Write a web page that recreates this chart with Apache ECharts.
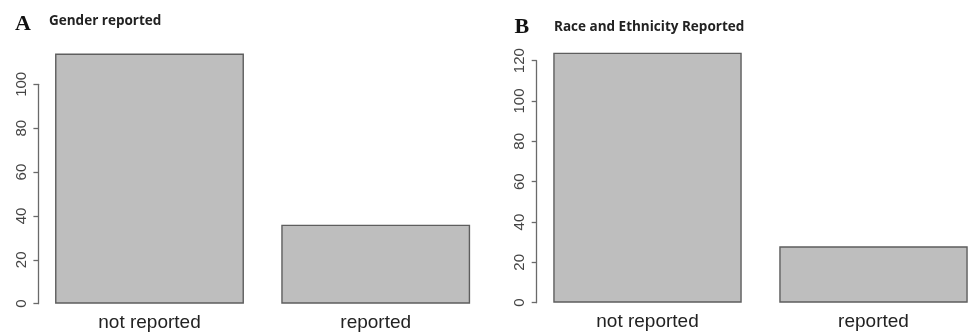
<!DOCTYPE html>
<html>
<head>
<meta charset="utf-8">
<script src="https://cdn.jsdelivr.net/npm/echarts@6/dist/echarts.min.js"></script>
<style>
html,body{margin:0;padding:0;background:#fff;}
#c{width:968px;height:335px;}
</style>
</head>
<body>
<div id="c"></div>
<script>
const categories = ['not reported', 'reported'];
const genderCounts = [114, 36];
const raceCounts = [124, 28];
const panelLetters = ['A', 'B'];
const panelTitles = ['Gender reported', 'Race and Ethnicity Reported'];
const genderAxisMax = 100;
const raceAxisMax = 120;
const tickStep = 20;

const chart = echarts.init(document.getElementById('c'), null, {renderer: 'canvas'});

function yAxisCfg(gridIndex, max, offset) {
  return {
    type: 'value', gridIndex: gridIndex, min: 0, max: max, interval: tickStep,
    position: 'left', offset: offset,
    splitLine: {show: false},
    axisLine: {show: true, lineStyle: {color: '#6a6a6a', width: 1.3}},
    axisTick: {show: true, length: 5, lineStyle: {color: '#6a6a6a', width: 1.3}},
    axisLabel: {rotate: 90, margin: 9, fontSize: 15, color: '#444', fontFamily: 'Liberation Sans, Arial, sans-serif'}
  };
}
function xAxisCfg(gridIndex) {
  return {
    type: 'category', gridIndex: gridIndex, data: categories,
    axisLine: {show: false}, axisTick: {show: false},
    axisLabel: {margin: 10, fontSize: 19, color: '#222', fontFamily: 'Liberation Sans, Arial, sans-serif'}
  };
}
const barStyle = {color: '#bebebe', borderColor: '#5e5e5e', borderWidth: 1.4};

chart.setOption({
  animation: false,
  backgroundColor: '#fff',
  title: [
    {text: panelLetters[0], left: 15, top: 13, padding: 0, textStyle: {fontFamily: 'Liberation Serif, Times New Roman, serif', fontWeight: 'bold', fontSize: 22, color: '#111'}},
    {text: panelTitles[0], left: 49, top: 14.5, padding: 0, textStyle: {fontFamily: 'Open Sans, sans-serif', fontWeight: 'bold', fontSize: 13.5, color: '#222'}},
    {text: panelLetters[1], left: 514.5, top: 16, padding: 0, textStyle: {fontFamily: 'Liberation Serif, Times New Roman, serif', fontWeight: 'bold', fontSize: 22, color: '#111'}},
    {text: panelTitles[1], left: 554, top: 20.5, padding: 0, textStyle: {fontFamily: 'Open Sans, sans-serif', fontWeight: 'bold', fontSize: 13.5, color: '#222'}}
  ],
  grid: [
    {left: 36.4, width: 452.4, top: 84.3, bottom: 31.3, containLabel: false, outerBoundsMode: 'none'},
    {left: 534.5, width: 452, top: 60.7, bottom: 32.3, containLabel: false, outerBoundsMode: 'none'}
  ],
  xAxis: [xAxisCfg(0), xAxisCfg(1)],
  yAxis: [yAxisCfg(0, genderAxisMax, -2), yAxisCfg(1, raceAxisMax, -2.2)],
  series: [
    {type: 'bar', xAxisIndex: 0, yAxisIndex: 0, data: genderCounts, barCategoryGap: '16.5%', clip: false, itemStyle: barStyle},
    {type: 'bar', xAxisIndex: 1, yAxisIndex: 1, data: raceCounts, barCategoryGap: '16.6%', clip: false, itemStyle: barStyle}
  ]
});
</script>
</body>
</html>
